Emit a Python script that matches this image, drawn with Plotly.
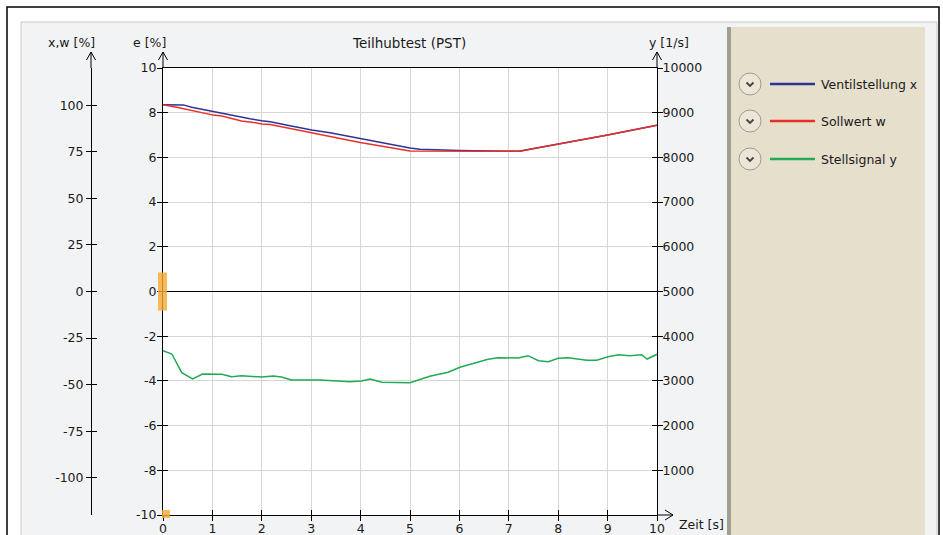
import plotly.graph_objects as go

# ---------------- data ----------------
t_x = [0, 0.41, 0.58, 0.99, 1.19, 1.39, 1.76, 2.0, 2.17, 2.57, 3.01, 3.38, 3.99, 4.19,
       5.0, 5.2, 6.0, 7.2, 7.6, 8.0, 8.2, 9.0, 10]
ventil_x = [100.3, 100.2, 98.9, 96.7, 96.0, 94.6, 92.7, 91.7, 91.1, 89.0, 86.7, 85.2, 82.0, 81.3,
            77.0, 76.4, 75.7, 75.3, 77.2, 79.1, 80.3, 84.0, 89.3]

t_w = [0, 0.28, 1.02, 1.19, 1.59, 1.83, 2.0, 2.17, 2.98, 3.99, 5.0, 7.23, 7.6, 8.0, 8.2, 9.0, 10]
soll_w = [100.3, 98.9, 94.7, 94.2, 91.5, 90.8, 89.9, 89.7, 85.4, 80.0, 75.5, 75.3, 77.2, 79.1,
          80.3, 84.0, 89.3]

t_y = [0, 0.18, 0.38, 0.60, 0.80, 1.19, 1.39, 1.59, 2.0, 2.23, 2.40, 2.6, 3.18, 3.41, 3.78,
       4.02, 4.19, 4.43, 5.0, 5.4, 5.77, 6.01, 6.58, 6.78, 7.19, 7.39, 7.6, 7.8, 8.0, 8.2,
       8.58, 8.78, 9.01, 9.22, 9.45, 9.69, 9.8, 10]
stell_y = [3676, 3602, 3184, 3043, 3154, 3148, 3094, 3116, 3087, 3110, 3087, 3020, 3020, 3000,
           2982, 3000, 3043, 2969, 2960, 3103, 3193, 3304, 3483, 3519, 3512, 3564, 3452, 3430,
           3506, 3519, 3461, 3461, 3541, 3586, 3564, 3586, 3490, 3595]

x_ticks = list(range(0, 11))
e_ticks = list(range(-10, 11, 2))
xw_ticks = [-100, -75, -50, -25, 0, 25, 50, 75, 100]
y_ticks = list(range(1000, 10001, 1000))

series_names = ["Ventilstellung x", "Sollwert w", "Stellsignal y"]
series_colors = ["#2c3593", "#e8302a", "#22aa55"]

# ---------------- geometry helpers ----------------
W, H = 943, 535
def px(x):
    return x / W
def py(y):
    return 1 - y / H

FONT = "DejaVu Sans"
FS = 12.5
TXT = "#1a1a1a"

fig = go.Figure()
fig.add_trace(go.Scatter(x=t_x, y=ventil_x, mode="lines", name=series_names[0],
                         line=dict(color=series_colors[0], width=1.5), xaxis="x", yaxis="y2"))
fig.add_trace(go.Scatter(x=t_w, y=soll_w, mode="lines", name=series_names[1],
                         line=dict(color=series_colors[1], width=1.5), xaxis="x", yaxis="y2"))
fig.add_trace(go.Scatter(x=t_y, y=stell_y, mode="lines", name=series_names[2],
                         line=dict(color=series_colors[2], width=1.5), xaxis="x", yaxis="y3"))
# empty helper traces so that tick-only axes are rendered
for xa, ya in [("x2", "y"), ("x", "y4"), ("x", "y5"), ("x", "y6"), ("x", "y")]:
    fig.add_trace(go.Scatter(x=[], y=[], xaxis=xa, yaxis=ya, showlegend=False, hoverinfo="skip"))

dom_x = [px(163), px(657)]
dom_y = [py(515), py(68)]
tf = dict(family=FONT, size=FS, color=TXT)

def tick_only(vals, rng, **kw):
    d = dict(range=rng, tickmode="array", tickvals=vals, ticks="inside", showticklabels=False,
             showline=False, showgrid=False, zeroline=False, automargin=False,
             ticklen=5, tickwidth=1, tickcolor="black")
    d.update(kw)
    return d

def main_axis(vals, rng, **kw):
    d = dict(range=rng, tickmode="array", tickvals=vals, ticktext=[str(v) for v in vals],
             ticks="outside", ticklen=5, tickwidth=1, tickcolor="black", tickfont=tf,
             showline=True, linecolor="black", linewidth=1, showgrid=False, zeroline=False,
             automargin=False)
    d.update(kw)
    return d

fig.update_layout(
    width=W, height=H, autosize=False,
    margin=dict(l=0, r=0, t=0, b=0, pad=0, autoexpand=False),
    paper_bgcolor="white", plot_bgcolor="rgba(0,0,0,0)",
    showlegend=False,
    font=dict(family=FONT, size=FS, color=TXT),
    xaxis=main_axis(x_ticks, [0, 10], domain=dom_x, mirror=True, showgrid=True,
                    gridcolor="#d6d6d6", gridwidth=1, anchor="y", ticklabelstandoff=-3),
    xaxis2=tick_only(x_ticks, [0, 10], domain=dom_x, overlaying="x", anchor="y"),
    yaxis=main_axis(e_ticks, [-10, 10], domain=dom_y, showgrid=True, gridcolor="#d6d6d6",
                    gridwidth=1, zeroline=True, zerolinecolor="black", zerolinewidth=1,
                    anchor="x", ticklabelstandoff=-2),
    yaxis4=tick_only(e_ticks, [-10, 10], overlaying="y", anchor="x"),
    yaxis2=main_axis(xw_ticks, [-120, 120], overlaying="y", anchor="free", position=px(91),
                     side="left"),
    yaxis5=tick_only(xw_ticks, [-120, 120], overlaying="y", anchor="free", position=px(91),
                     side="left"),
    yaxis3=main_axis(y_ticks, [0, 10000], overlaying="y", anchor="x", side="right",
                     ticklabelstandoff=-3),
    yaxis6=tick_only(y_ticks, [0, 10000], overlaying="y", anchor="x", side="right"),
)

shapes = []
def rect(x0, y0, x1, y1, fill, line_color=None, lw=0, layer="below", yref="paper", ys=None):
    d = dict(type="rect", xref="paper", yref=yref, x0=px(x0), x1=px(x1),
             y0=py(y0) if ys is None else ys[0], y1=py(y1) if ys is None else ys[1],
             fillcolor=fill, layer=layer,
             line=dict(width=lw, color=line_color or fill))
    return d

# background frame and panels
shapes.append(rect(7, 7, 939, 560, "white", "black", 1.5))
shapes.append(rect(21, 22, 937, 560, "#f2f3f4", "#c9c9c9", 1))
shapes.append(rect(163, 68, 657, 515, "white"))
shapes.append(rect(727, 27, 925, 560, "#e6dfcc"))
shapes.append(rect(727, 27, 731, 560, "#a29e94"))

# orange markers on e axis
shapes.append(rect(158, 0, 167, 0, "rgba(245,170,50,0.8)", layer="above", yref="y", ys=[-0.85, 0.85]))
shapes.append(rect(162, 510, 170, 518, "rgba(245,170,50,0.8)", layer="above"))

def path(points, color="black", width=1):
    d = "M " + " L ".join(f"{px(a):.6f},{py(b):.6f}" for a, b in points)
    return dict(type="path", xref="paper", yref="paper", path=d, layer="above",
                line=dict(color=color, width=width))

# axis arrow extensions
for ax_x in (91, 163, 657):
    shapes.append(path([(ax_x, 68), (ax_x, 52)]))
    shapes.append(path([(ax_x - 4.5, 60), (ax_x, 52), (ax_x + 4.5, 60)]))
shapes.append(path([(657, 515), (673, 515)]))
shapes.append(path([(665, 510), (673, 515), (665, 520)]))

# legend
legend_y = [84, 121, 159]
annotations = []
for name, col, ly in zip(series_names, series_colors, legend_y):
    shapes.append(dict(type="circle", xref="paper", yref="paper",
                       x0=px(739), x1=px(761), y0=py(ly + 11), y1=py(ly - 11),
                       fillcolor="#ece6d7", line=dict(color="#9c9a96", width=1), layer="above"))
    shapes.append(path([(746.5, ly - 1.5), (750, ly + 2), (753.5, ly - 1.5)], "#444444", 1.8))
    shapes.append(path([(770, ly), (815, ly)], col, 2.5))
    annotations.append(dict(text=name, x=px(819), y=py(ly), xref="paper", yref="paper",
                            xanchor="left", yanchor="middle", showarrow=False,
                            font=dict(family=FONT, size=FS, color=TXT)))

def label(text, x, y, xanchor="center", size=FS):
    return dict(text=text, x=px(x), y=py(y), xref="paper", yref="paper", xanchor=xanchor,
                yanchor="middle", showarrow=False, font=dict(family=FONT, size=size, color=TXT))

annotations += [
    label("Teilhubtest (PST)", 409, 43, size=13.5),
    label("x,w [%]", 71, 42),
    label("e [%]", 149, 42),
    label("y [1/s]", 669, 42),
    label("Zeit [s]", 677, 524, "left"),
]

fig.update_layout(shapes=shapes, annotations=annotations)
fig.write_html("out.html",
               config={"displayModeBar": False, "staticPlot": True},
               post_script="document.body.style.margin='0';document.body.style.overflow='hidden';")
